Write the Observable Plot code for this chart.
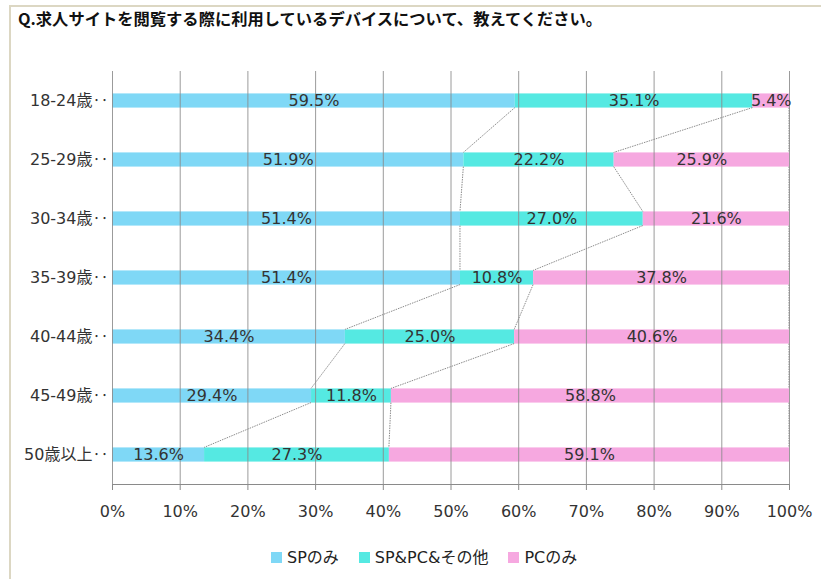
<!DOCTYPE html>
<html><head><meta charset="utf-8">
<script src="https://cdn.jsdelivr.net/npm/d3@7"></script>
<script src="https://cdn.jsdelivr.net/npm/@observablehq/plot@0.6"></script>
<style>
body{margin:0;background:#fff;}
#wrap{position:relative;width:821px;height:579px;overflow:hidden;background:#fff;font-family:"DejaVu Sans","Noto Sans CJK JP",sans-serif;color:#333;}
#frame{position:absolute;left:9px;top:5px;right:-5px;bottom:-5px;border-top:2px solid #dcd7c3;border-left:2px solid #dcd7c3;}
#title{position:absolute;left:18px;top:8px;font-family:"Noto Sans CJK JP",sans-serif;font-weight:bold;font-size:16.3px;line-height:20px;color:#111;white-space:nowrap;}
#chart{position:absolute;left:0;top:0;}
#legend{position:absolute;left:271px;top:546px;height:20px;display:flex;align-items:center;font-size:16px;color:#222;white-space:nowrap;}
#legend .item{display:flex;align-items:center;margin-right:20px;}
#legend .sw{width:11px;height:11px;margin-right:5px;margin-top:3px;}
</style>
</head><body>
<div id="wrap">
  <div id="frame"></div>
  <div id="title"></div>
  <div id="chart"></div>
  <div id="legend"></div>
</div>
<script>
const titleText = "Q.求人サイトを閲覧する際に利用しているデバイスについて、教えてください。";
const ages = ["18-24歳‥","25-29歳‥","30-34歳‥","35-39歳‥","40-44歳‥","45-49歳‥","50歳以上‥"];
const seriesNames = ["SPのみ","SP&PC&その他","PCのみ"];
const seriesColors = ["#7fd8f6","#55e9e2","#f6a8e0"];
const spOnly = [59.5,51.9,51.4,51.4,34.4,29.4,13.6];
const spPcOther = [35.1,22.2,27.0,10.8,25.0,11.8,27.3];
const pcOnly = [5.4,25.9,21.6,37.8,40.6,58.8,59.1];
const xTicks = [0,10,20,30,40,50,60,70,80,90,100];

const seriesValues = [spOnly, spPcOther, pcOnly];
const data = [];
seriesNames.forEach((s, k) => ages.forEach((a, i) => data.push({age: a, series: s, value: seriesValues[k][i]})));
const cum = ages.map((a, i) => [spOnly[i], spOnly[i] + spPcOther[i], spOnly[i] + spPcOther[i] + pcOnly[i]]);

document.getElementById("title").textContent = titleText;

function connectors(index, scales) {
  const x = scales.x, y = scales.y;
  const bw = typeof y.bandwidth === "function" ? y.bandwidth() : 14;
  const g = d3.create("svg:g").attr("stroke", "#8c8c8c").attr("stroke-width", 1).attr("stroke-dasharray", "1.5,1").attr("fill", "none");
  for (let i = 0; i < ages.length - 1; i++) {
    for (let k = 0; k < 3; k++) {
      g.append("line")
        .attr("x1", x(cum[i][k])).attr("y1", y(ages[i]) + bw)
        .attr("x2", x(cum[i + 1][k])).attr("y2", y(ages[i + 1]));
    }
  }
  return g.node();
}

const chart = Plot.plot({
  width: 821,
  height: 530,
  marginTop: 71,
  marginBottom: 46,
  marginLeft: 112,
  marginRight: 32,
  style: {fontFamily: "'DejaVu Sans','Noto Sans CJK JP',sans-serif", fontSize: "16px", color: "#333", background: "transparent"},
  x: {domain: [0, 100], axis: null},
  y: {domain: ages, paddingInner: 0.76, paddingOuter: 0.38, round: false, axis: null},
  color: {domain: seriesNames, range: seriesColors},
  marks: [
    Plot.barX(data, Plot.stackX({x: "value", y: "age", z: "series", fill: "series"})),
    Plot.ruleX(xTicks, {stroke: "#8a8a8a", strokeOpacity: 0.85}),
    connectors,
    Plot.frame({anchor: "bottom", stroke: "#8a8a8a"}),
    Plot.text(data, Plot.stackX({x: "value", y: "age", z: "series", text: d => d.value.toFixed(1) + "%", fill: "#333", fontSize: 16})),
    Plot.axisX({ticks: xTicks, tickFormat: d => d + "%", tickSize: 6, tickPadding: 15, stroke: "#8a8a8a", fill: "#333", fontSize: 16, label: null}),
    Plot.axisY({tickSize: 0, tickPadding: 4, fill: "#333", fontSize: 16, label: null})
  ]
});
document.getElementById("chart").appendChild(chart);

// render the trailing leader dots with a CJK font so they sit at mid-height
d3.select(chart).selectAll('g[aria-label="y-axis tick label"] text').each(function() {
  const full = this.textContent;
  const idx = full.indexOf("‥");
  if (idx < 0) return;
  const sel = d3.select(this);
  sel.text(null);
  sel.append("tspan").text(full.slice(0, idx));
  sel.append("tspan").attr("font-family", "'Noto Sans CJK JP'").text(full.slice(idx));
});

const legend = document.getElementById("legend");
seriesNames.forEach((s, k) => {
  const item = document.createElement("div");
  item.className = "item";
  const sw = document.createElement("div");
  sw.className = "sw";
  sw.style.background = seriesColors[k];
  const t = document.createElement("span");
  t.textContent = s;
  item.appendChild(sw);
  item.appendChild(t);
  legend.appendChild(item);
});
</script>
</body></html>
